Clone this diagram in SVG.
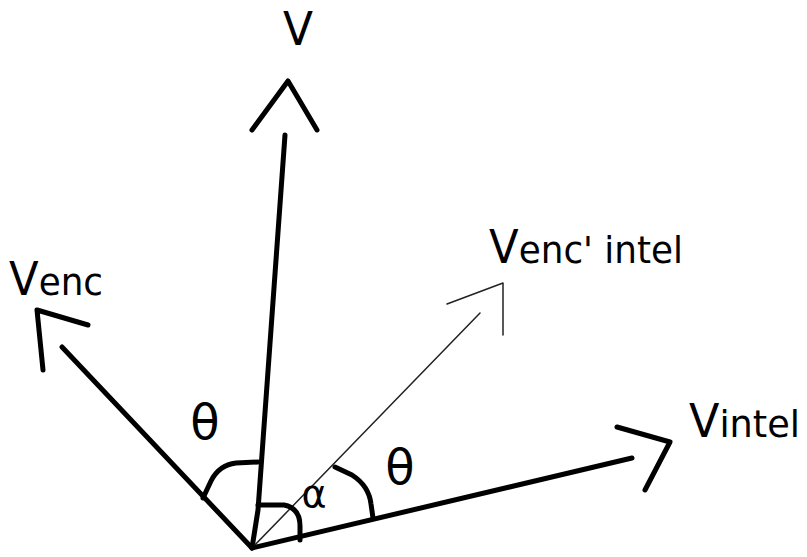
<svg xmlns="http://www.w3.org/2000/svg" width="807" height="557" viewBox="0 0 807 557">
<style>
.thick{fill:none;stroke:#000;stroke-width:5;stroke-linecap:round;stroke-linejoin:round}
.thin{fill:none;stroke:#222;stroke-width:1.5;stroke-linecap:round;stroke-linejoin:round}
.lbl{font-family:"DejaVu Sans",sans-serif;font-size:38px;fill:#000}
.big{font-size:46px}
.greek{font-family:"DejaVu Sans",sans-serif;fill:#000;text-anchor:middle}
</style>
<rect width="807" height="557" fill="#fff"/>
<g id="connectors">
  <g id="vec-V">
    <path class="thick" d="M252,548 L258,510 L285,135"/>
    <path class="thick" d="M252,130 L288,81 L317,130"/>
  </g>
  <g id="vec-Venc">
    <path class="thick" d="M252,548 L62,347"/>
    <path class="thick" d="M43,370 L37,310 L88,325"/>
  </g>
  <g id="vec-Vencintel">
    <path class="thin" d="M252,548 L480,313"/>
    <path class="thin" d="M447,304 L503,283 L503,335"/>
  </g>
  <g id="vec-Vintel">
    <path class="thick" d="M252,548 L632,458"/>
    <path class="thick" d="M617,427 L670,442 L645,490"/>
  </g>
  <g id="arcs">
    <path class="thick" d="M203,498 L211,481 Q219,465 236,463 L258,462"/>
    <path class="thick" d="M258,505 L284,505 Q300,508 300,526 L300,540"/>
    <path class="thick" d="M335,467 L352,475 Q369,486 371,504 L373,518"/>
  </g>
</g>
<g id="label-V"><text class="lbl big" x="283" y="45" textLength="30" lengthAdjust="spacingAndGlyphs">V</text></g>
<g id="label-Venc"><text class="lbl" x="9" y="295" textLength="94" lengthAdjust="spacingAndGlyphs"><tspan class="big">V</tspan>enc</text></g>
<g id="label-Vencintel"><text class="lbl" x="489" y="263" textLength="194" lengthAdjust="spacingAndGlyphs"><tspan class="big">V</tspan>enc' intel</text></g>
<g id="label-Vintel"><text class="lbl" x="689" y="437" textLength="111" lengthAdjust="spacingAndGlyphs"><tspan class="big">V</tspan>intel</text></g>
<g id="label-theta1"><text class="greek" x="205" y="439" font-size="48">θ</text></g>
<g id="label-theta2"><text class="greek" x="400" y="484" font-size="48">θ</text></g>
<g id="label-alpha"><text class="greek" x="314" y="507" font-size="38">α</text></g>
</svg>
